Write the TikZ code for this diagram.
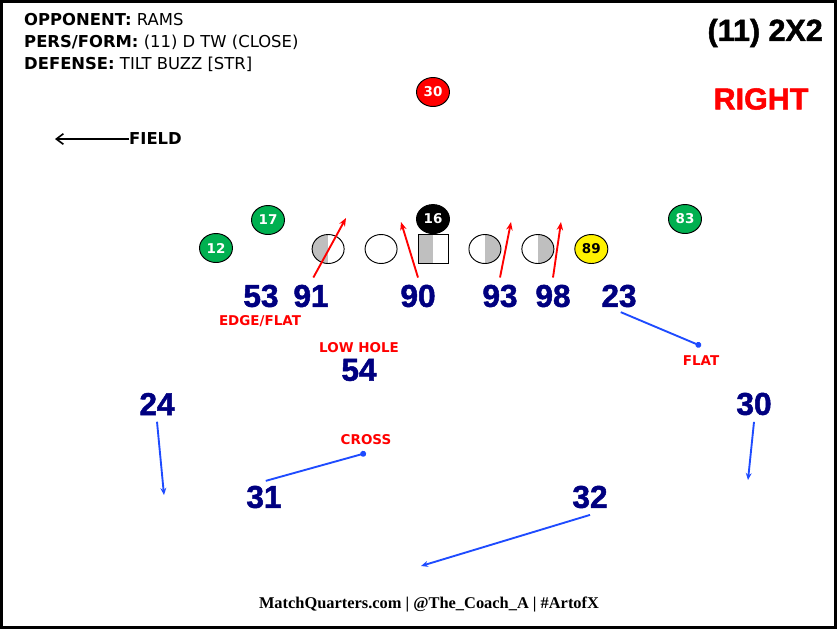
\documentclass[tikz,border=0pt]{standalone}
\usepackage{fontspec}
\setmainfont{DejaVu Sans}
\newfontfamily\arialfont{Liberation Sans}[BoldFeatures={FakeBold=1.6}]
\newfontfamily\footfont{Liberation Serif}
\usepackage{xcolor}
\usepackage{tikz}
\usetikzlibrary{positioning, arrows.meta, shapes.geometric}

\definecolor{navy}{RGB}{0,0,128}
\definecolor{routeblue}{RGB}{30,75,255}
\definecolor{wrgreen}{RGB}{0,176,80}
\definecolor{halfgray}{RGB}{191,191,191}

\begin{document}
\begin{tikzpicture}[
    x=0.03cm, y=-0.03cm,
    node distance=0.6cm,
    header/.style={anchor=west, inner sep=0pt, font=\fontsize{14}{16}\selectfont},
    player/.style={ellipse, draw, line width=0.8pt, minimum width=0.99cm, minimum height=0.87cm, inner sep=0pt, text=white, font=\bfseries\fontsize{11.5}{13}\selectfont},
    lineman/.style={ellipse, draw, line width=0.8pt, minimum width=0.96cm, minimum height=0.87cm, inner sep=0pt},
    leftgray/.style={path picture={\fill[halfgray] (path picture bounding box.south west) rectangle (path picture bounding box.north);}},
    rightgray/.style={path picture={\fill[halfgray] (path picture bounding box.south) rectangle (path picture bounding box.north east);}},
    num/.style={text=navy, inner sep=0pt, font=\arialfont\bfseries\fontsize{27}{30}\selectfont},
    tag/.style={text=red, font=\bfseries\fontsize{11.5}{13}\selectfont},
    rush/.style={red, line width=1.6pt, -{Stealth[length=7pt, width=5.5pt]}},
    route/.style={routeblue, line width=1.6pt, -{Stealth[length=6pt, width=5pt]}},
    hook/.style={routeblue, line width=1.6pt, -{Circle[length=5pt]}}
]
\useasboundingbox (0,0) rectangle (840,630);
\draw[line width=2.6pt] (1.5,1.5) rectangle (835.5,627.5);

% Header
\node[header] (opp) at (24,20) {{\bfseries OPPONENT:} RAMS};
\node[header] (pers) at (24,42) {{\bfseries PERS/FORM:} (11) D TW (CLOSE)};
\node[header] (def) at (24,64) {{\bfseries DEFENSE:} TILT BUZZ [STR]};
\node[anchor=east, inner sep=0pt, font=\arialfont\bfseries\fontsize{26}{30}\selectfont] (group) at (823,33) {(11) 2X2};
\node[text=red, inner sep=0pt, font=\arialfont\bfseries\fontsize{26}{30}\selectfont] (side) at (761,99) {RIGHT};

\node[anchor=west, inner sep=0pt, font=\bfseries\fontsize{14}{16}\selectfont] (field) at (129,139) {FIELD};
\coordinate (fieldtip) at (55,139);
\draw[line width=1.4pt, -{Straight Barb[length=6pt, width=9pt]}] (field.west) -- (fieldtip);

% Offense
\node[player, fill=red] (rb) at (433,92) {30};
\node[rectangle, draw, line width=0.8pt, minimum width=0.9cm, minimum height=0.87cm, leftgray] (c) at (433,249) {};
\node[lineman, left=of c] (lg) {};
\node[lineman, leftgray, left=of lg] (lt) {};
\node[lineman, rightgray, right=of c] (rg) {};
\node[lineman, rightgray, right=of rg] (rt) {};
\node[player, fill=black, above=0pt of c] (qb) {16};
\node[player, fill=yellow, text=black, right=of rt] (te) {89};
\node[player, fill=wrgreen] (x) at (216,248) {12};
\node[player, fill=wrgreen] (h) at (268,220) {17};
\node[player, fill=wrgreen] (z) at (685,219) {83};

% Defense
\node[num] (d53) at (261,296) {53};
\node[num] (d91) at (311,296) {91};
\node[num] (d90) at (418,296) {90};
\node[num] (d93) at (500,296) {93};
\node[num] (d98) at (553,296) {98};
\node[num] (d23) at (619,296) {23};
\node[num] (d54) at (359,370) {54};
\node[num] (d24) at (157,404) {24};
\node[num] (d30) at (754,404) {30};
\node[num] (d31) at (264,497) {31};
\node[num] (d32) at (590,497) {32};

\node[tag] (edge) at (260,321) {EDGE/FLAT};
\node[tag, above=2pt of d54] (lowhole) {LOW HOLE};
\node[tag] (flat) at (701,361) {FLAT};
\node[tag] (cross) at (366,440) {CROSS};

% Rush lanes
\coordinate (t91) at (346,218);
\coordinate (t90) at (401,222);
\coordinate (t93) at (511,222);
\coordinate (t98) at (561,222);
\draw[rush] ([xshift=2pt, yshift=6pt]d91.north) -- (t91);
\draw[rush] ([yshift=6pt]d90.north) -- (t90);
\draw[rush] ([yshift=6pt]d93.north) -- (t93);
\draw[rush] ([yshift=6pt]d98.north) -- (t98);

% Drops
\coordinate (f23) at (701,346);
\coordinate (f24) at (164,495);
\coordinate (f30) at (748,480);
\coordinate (f31) at (366,453);
\coordinate (f32) at (421,566);
\draw[hook] ([xshift=1.5pt, yshift=-4pt]d23.south) -- (f23);
\draw[route] ([yshift=-5.5pt]d24.south) -- (f24);
\draw[route] ([yshift=-5.5pt]d30.south) -- (f30);
\draw[hook] ([xshift=1.5pt, yshift=4pt]d31.north) -- (f31);
\draw[route] ([yshift=-5.5pt]d32.south) -- (f32);

\node[font=\footfont\bfseries\fontsize{14}{16}\selectfont] (credit) at (429,604) {MatchQuarters.com | @The\_Coach\_A | \#ArtofX};

\end{tikzpicture}
\end{document}
